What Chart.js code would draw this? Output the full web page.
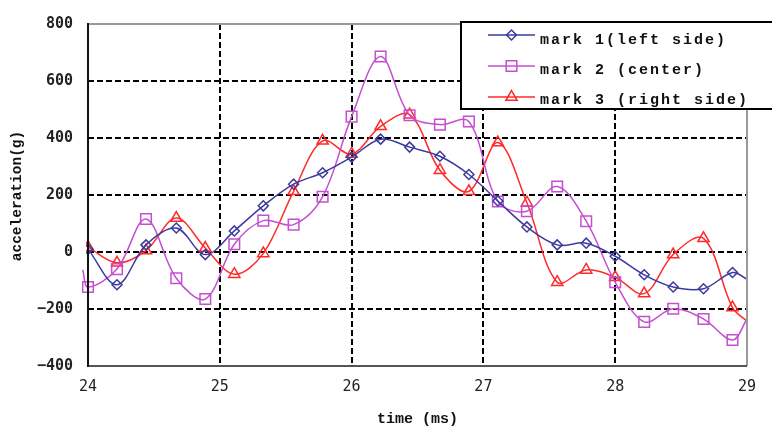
<!DOCTYPE html>
<html>
<head>
<meta charset="utf-8">
<script src="https://cdn.jsdelivr.net/npm/chart.js@4.4.1/dist/chart.umd.min.js"></script>
<style>
  html, body { margin: 0; padding: 0; background: #fff; }
  canvas { display: block; }
</style>
</head>
<body>
<canvas id="chart" width="772" height="431"></canvas>
<script>
// Sample times (ms), one reading every 2/9 ms
const times = [24.00, 24.22, 24.44, 24.67, 24.89, 25.11, 25.33, 25.56, 25.78, 26.00, 26.22, 26.44,
               26.67, 26.89, 27.11, 27.33, 27.56, 27.78, 28.00, 28.22, 28.44, 28.67, 28.89];

// Acceleration (g) at each sample time
const mark1 = [10, -115, 25, 84, -9, 74, 162, 238, 278, 333, 396, 368,
               336, 272, 179, 88, 25, 31, -15, -80, -123, -129, -72];
const mark2 = [-123, -60, 116, -92, -165, 27, 110, 96, 194, 475, 686, 480,
               447, 458, 177, 143, 230, 108, -106, -245, -199, -235, -309];
const mark3 = [17, -38, 5, 119, 14, -78, -5, 213, 390, 344, 441, 482,
               287, 213, 384, 173, -106, -63, -89, -146, -9, 48, -195];

// Curve continuation past the last sample, and before the first one (mark 2 only)
const tailTime = 29.0;
const tailValues = [-95, -235, -243];
const leadTime = 23.96;
const mark2Lead = -62;

const seriesNames = ['mark 1(left side)', 'mark 2 (center)', 'mark 3 (right side)'];
const xTicks = [24, 25, 26, 27, 28, 29];
const yTicks = [-400, -200, 0, 200, 400, 600, 800];

const colors = ['#3d3a9e', '#c54fd1', '#ff2a2a'];
const shapes = ['rectRot', 'rect', 'triangle'];
const radii = [5, 7.5, 6.5];

function buildPoints(values, tail, lead) {
  const pts = [];
  if (lead !== undefined) pts.push({ x: leadTime, y: lead, edge: true });
  values.forEach((v, i) => pts.push({ x: times[i], y: v }));
  pts.push({ x: tailTime, y: tail, edge: true });
  return pts;
}

const allSeries = [mark1, mark2, mark3];
const datasets = allSeries.map((vals, i) => {
  const pts = buildPoints(vals, tailValues[i], i === 1 ? mark2Lead : undefined);
  return {
    label: seriesNames[i],
    data: pts,
    borderColor: colors[i],
    backgroundColor: 'rgba(0,0,0,0)',
    borderWidth: 1.5,
    tension: 0.35,
    pointStyle: shapes[i],
    pointRadius: pts.map(p => p.edge ? 0 : radii[i]),
    pointBorderWidth: 1.5,
    pointBorderColor: colors[i],
    pointBackgroundColor: 'rgba(0,0,0,0)',
    clip: i === 1 ? { left: 8, top: 0, right: 2, bottom: 0 } : 2
  };
});

const MONO = '"DejaVu Sans Mono", "Liberation Mono", monospace';
const SERIF_MONO = '"Liberation Mono", "DejaVu Sans Mono", monospace';

function drawMarker(ctx, shape, x, y, r) {
  ctx.beginPath();
  if (shape === 'rectRot') {
    ctx.moveTo(x, y - r); ctx.lineTo(x + r, y); ctx.lineTo(x, y + r); ctx.lineTo(x - r, y); ctx.closePath();
  } else if (shape === 'rect') {
    const s = r * Math.SQRT1_2;
    ctx.rect(x - s, y - s, 2 * s, 2 * s);
  } else {
    const h = r * Math.sin(Math.PI / 3);
    ctx.moveTo(x, y - r); ctx.lineTo(x + h, y + r / 2); ctx.lineTo(x - h, y + r / 2); ctx.closePath();
  }
  ctx.stroke();
}

const framePlugin = {
  id: 'frame',
  afterDraw(chart) {
    const { ctx, chartArea: a } = chart;
    ctx.save();
    // outer frame: light grey top/right, dark left/bottom
    ctx.setLineDash([]);
    ctx.lineWidth = 2;
    ctx.strokeStyle = '#9a9a9a';
    ctx.beginPath();
    ctx.moveTo(a.left, a.top); ctx.lineTo(a.right, a.top); ctx.lineTo(a.right, a.bottom);
    ctx.stroke();
    ctx.strokeStyle = '#555';
    ctx.beginPath();
    ctx.moveTo(a.left, a.bottom); ctx.lineTo(a.right, a.bottom);
    ctx.stroke();
    ctx.strokeStyle = '#111';
    ctx.beginPath();
    ctx.moveTo(a.left, a.top - 1); ctx.lineTo(a.left, a.bottom + 1);
    ctx.stroke();

    // axis titles
    ctx.fillStyle = '#111';
    ctx.font = 'bold 15px ' + SERIF_MONO;
    ctx.textAlign = 'center';
    ctx.textBaseline = 'middle';
    ctx.fillText('time (ms)', (a.left + a.right) / 2, 419);
    ctx.translate(17, 196);
    ctx.rotate(-Math.PI / 2);
    ctx.font = 'bold 14.5px ' + SERIF_MONO;
    ctx.fillText('acceleration(g)', 0, 0);
    ctx.restore();

    // legend box
    ctx.save();
    ctx.fillStyle = '#fff';
    ctx.fillRect(461, 22, 330, 87);
    ctx.strokeStyle = '#000';
    ctx.lineWidth = 2;
    ctx.beginPath();
    ctx.moveTo(790, 22); ctx.lineTo(461, 22); ctx.lineTo(461, 109); ctx.lineTo(790, 109);
    ctx.stroke();
    const rows = [35, 66, 97];
    const baselines = [44, 74, 104];
    ctx.font = 'bold 15px ' + SERIF_MONO;
    ctx.letterSpacing = '2px';
    ctx.textAlign = 'left';
    ctx.textBaseline = 'alphabetic';
    seriesNames.forEach((name, i) => {
      ctx.strokeStyle = colors[i];
      ctx.lineWidth = 1.5;
      ctx.beginPath();
      ctx.moveTo(488, rows[i]); ctx.lineTo(535, rows[i]);
      ctx.stroke();
      drawMarker(ctx, shapes[i], 511.5, rows[i], radii[i]);
      ctx.fillStyle = '#111';
      ctx.fillText(name, 540, baselines[i]);
    });
    ctx.restore();
  }
};

const gridColor = (edgeValues) => (c) =>
  (c.tick && edgeValues.includes(c.tick.value)) ? 'rgba(0,0,0,0)' : '#000';

new Chart(document.getElementById('chart'), {
  type: 'line',
  data: { datasets },
  plugins: [framePlugin],
  options: {
    responsive: false,
    devicePixelRatio: 1,
    animation: false,
    layout: { padding: { top: 15, right: 25, left: 0, bottom: 0 } },
    plugins: { legend: { display: false }, tooltip: { enabled: false } },
    scales: {
      x: {
        type: 'linear',
        min: xTicks[0],
        max: xTicks[xTicks.length - 1],
        afterBuildTicks: (s) => { s.ticks = xTicks.map(v => ({ value: v })); },
        afterFit: (s) => { s.height = 65; },
        grid: { color: gridColor([24, 29]), lineWidth: 2, drawTicks: false },
        border: { display: false, dash: [6, 3] },
        ticks: { padding: 12, color: '#222', font: { family: MONO, size: 15 }, maxRotation: 0 }
      },
      y: {
        type: 'linear',
        min: yTicks[0],
        max: yTicks[yTicks.length - 1],
        afterBuildTicks: (s) => { s.ticks = yTicks.map(v => ({ value: v })); },
        afterFit: (s) => { s.width = 88; },
        grid: { color: gridColor([-400, 800]), lineWidth: 2, drawTicks: false },
        border: { display: false, dash: [6, 3] },
        ticks: {
          padding: 15, color: '#222', font: { family: MONO, size: 15, weight: 'bold' },
          callback: (v) => String(v).replace('-', '\u2212')
        }
      }
    }
  }
});
</script>
</body>
</html>
